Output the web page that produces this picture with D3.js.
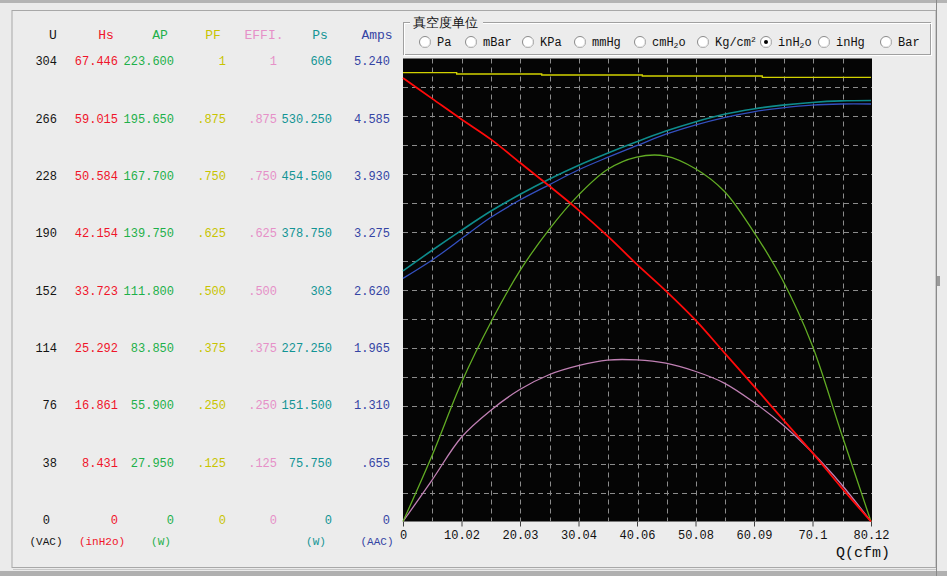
<!DOCTYPE html>
<html><head><meta charset="utf-8">
<script src="https://cdn.jsdelivr.net/npm/d3@7/dist/d3.min.js"></script>
<style>
html,body{margin:0;padding:0;background:#ebebeb;overflow:hidden}
svg{display:block}
text{font-family:"Liberation Mono","DejaVu Sans Mono",monospace}
</style></head><body>
<svg id="c" width="947" height="576"></svg>
<script>
// ---------- DATA ----------
const flowQ   = [0,5,10,15,20,25,30,35,40,45,50,55,60,65,70,75,80.12];
const hsVals  = [64.6,61.6,58.6,55.7,52.3,48.9,45.4,41.6,37.5,33.6,29.4,24.6,19.8,14.9,10.1,5.0,0];
const apVals  = [0,32,67,96,121,141,157.5,170,176,176.5,170.5,159.5,140,116.5,85.5,43,0];
const effiVals= [0,0.09,0.182,0.240,0.285,0.317,0.3365,0.3485,0.349,0.342,0.3245,0.299,0.258,0.209,0.150,0.081,0];
const psVals  = [328,355,381,406,428,448,466,482,497,511,523,533,540,545,548.5,550.5,551];
const ampsVals= [2.752,2.96,3.20,3.44,3.638,3.81,3.978,4.12,4.253,4.383,4.487,4.572,4.637,4.682,4.713,4.725,4.725];
const pfQ     = [0,9.19,23.75,40.97,61.51,80.12];
const pfVals  = [0.9693,0.9665,0.9644,0.9622,0.9593,0.9593];

const xTickLabels = ["0","10.02","20.03","30.04","40.06","50.08","60.09","70.1","80.12"];
const uTicks    = ["0","38","76","114","152","190","228","266","304"];
const hsTicks   = ["0","8.431","16.861","25.292","33.723","42.154","50.584","59.015","67.446"];
const apTicks   = ["0","27.950","55.900","83.850","111.800","139.750","167.700","195.650","223.600"];
const pfTicks   = ["0",".125",".250",".375",".500",".625",".750",".875","1"];
const effiTicks = ["0",".125",".250",".375",".500",".625",".750",".875","1"];
const psTicks   = ["0","75.750","151.500","227.250","303","378.750","454.500","530.250","606"];
const ampsTicks = ["0",".655","1.310","1.965","2.620","3.275","3.930","4.585","5.240"];

const headers = ["U","Hs","AP","PF","EFFI.","Ps","Amps"];
const units   = ["(VAC)","(inH2o)","(W)","","","(W)","(AAC)"];
const radioLabels = ["Pa","mBar","KPa","mmHg","cmH2o","Kg/cm2","inH2o","inHg","Bar"];
const radioSelected = "inH2o";
const groupTitle = "真空度单位";
const xTitle = "Q(cfm)";
const qMax = 80.12, hsMax = 67.446, apMax = 223.6, pfMax = 1, effiMax = 1, psMax = 606, ampsMax = 5.24;

// ---------- LAYOUT ----------
const svg = d3.select("#c");
const P = {left:403, right:871, plotRight:872, top:58.5, bottom:521.5};

// window frame
svg.append("rect").attr("x",0).attr("y",0).attr("width",947).attr("height",576).attr("fill","#ebebeb");
svg.append("rect").attr("x",0).attr("y",0).attr("width",947).attr("height",3).attr("fill","#b4b4b4");
svg.append("rect").attr("x",12).attr("y",10.5).attr("width",924).attr("height",557).attr("fill","#ececec")
   .attr("stroke","#a8a8a8").attr("stroke-width",1);
svg.append("line").attr("x1",13).attr("x2",936).attr("y1",569.5).attr("y2",569.5).attr("stroke","#c8c8c8");
svg.append("rect").attr("x",0).attr("y",571).attr("width",947).attr("height",5).attr("fill","#b0b0b0");
svg.append("line").attr("x1",936.5).attr("x2",936.5).attr("y1",0).attr("y2",576).attr("stroke","#8a8a8a");
svg.append("rect").attr("x",937).attr("y",276).attr("width",3).attr("height",10).attr("fill","#9a9a9a");

// scales
const x = d3.scaleLinear().domain([0,qMax]).range([P.left,P.right]);
const yFor = m => d3.scaleLinear().domain([0,m]).range([P.bottom,P.top]);
const yHs = yFor(hsMax), yAp = yFor(apMax), yPf = yFor(pfMax), yEf = yFor(effiMax), yPs = yFor(psMax), yAm = yFor(ampsMax);
const rowY = d3.scaleLinear().domain([0,8]).range([520,61]);

// plot background
svg.append("rect").attr("x",P.left).attr("y",P.top).attr("width",P.plotRight-P.left).attr("height",P.bottom-P.top).attr("fill","#050505");

// grid
const gx = d3.range(1,16).map(i=>P.left+(P.plotRight-P.left)*i/16);
const gy = d3.range(1,16).map(i=>P.top+(P.bottom-P.top)*i/16);
const grid = svg.append("g").attr("stroke","#8c8c8c").attr("stroke-width",1).attr("stroke-dasharray","5,4");
grid.selectAll("line.v").data(gx).join("line").attr("x1",d=>Math.round(d)+0.5).attr("x2",d=>Math.round(d)+0.5)
    .attr("y1",P.top).attr("y2",P.bottom);
grid.selectAll("line.h").data(gy).join("line").attr("y1",d=>Math.round(d)+0.5).attr("y2",d=>Math.round(d)+0.5)
    .attr("x1",P.left).attr("x2",P.plotRight);

// x axis
const xTickVals = d3.range(0,9).map(i=>i*qMax/8);
const xAxis = d3.axisBottom(x).tickValues(xTickVals).tickFormat((d,i)=>xTickLabels[i]).tickSize(5).tickPadding(4);
const gxa = svg.append("g").attr("transform",`translate(0,${P.bottom})`).call(xAxis);
gxa.select(".domain").remove();
gxa.selectAll(".tick line").attr("stroke","#404040");
gxa.selectAll(".tick text").attr("font-family","Liberation Mono").attr("font-size",12).attr("fill","#111");
svg.append("text").attr("x",890).attr("y",557).attr("text-anchor","end").attr("font-size",15).attr("fill","#111").text(xTitle);

// series lines
const mk = (ys)=>d3.line().x(d=>x(d[0])).y(d=>ys(d[1])).curve(d3.curveCatmullRom.alpha(0.5));
const zipQ = v => flowQ.map((q,i)=>[q,v[i]]);
const plotG = svg.append("g").attr("fill","none");
plotG.append("path").datum(pfQ.map((q,i)=>[q,pfVals[i]]))
  .attr("d",d3.line().x(d=>x(d[0])).y(d=>yPf(d[1])).curve(d3.curveStepAfter)).attr("stroke","#d2d200").attr("stroke-width",1.3);
plotG.append("path").datum(zipQ(psVals)).attr("d",mk(yPs)).attr("stroke","#0e8c8c").attr("stroke-width",1.6);
plotG.append("path").datum(zipQ(ampsVals)).attr("d",mk(yAm)).attr("stroke","#3450c0").attr("stroke-width",1.3);
plotG.append("path").datum(zipQ(effiVals)).attr("d",mk(yEf)).attr("stroke","#c080b4").attr("stroke-width",1.3);
plotG.append("path").datum(zipQ(apVals)).attr("d",mk(yAp)).attr("stroke","#62ac24").attr("stroke-width",1.3);
plotG.append("path").datum(zipQ(hsVals)).attr("d",mk(yHs)).attr("stroke","#ff0a0a").attr("stroke-width",1.8);

// left columns
const colTicks = [uTicks,hsTicks,apTicks,pfTicks,effiTicks,psTicks,ampsTicks];
const colColors = ["#141414","#f0142a","#1eb04a","#c8c400","#e690c8","#129494","#3444a4"];
const colRight  = [57,118,174,226,277,332,390];
const headCx    = [53,106,160,213,264,320,377];
const unitCx    = [46,102,161,0,0,316,377];
colTicks.forEach((ticks,c)=>{
  const g = svg.append("g").attr("fill",colColors[c]);
  g.append("text").attr("x",headCx[c]).attr("y",34).attr("dy","0.35em").attr("text-anchor","middle")
    .attr("font-size",13).text(headers[c]);
  g.selectAll("text.v").data(ticks).join("text").attr("class","v")
    .attr("x",(d,i)=> (c===0 && i===0) ? colRight[c]-7 : colRight[c])
    .attr("y",(d,i)=>rowY(i)).attr("dy","0.35em").attr("text-anchor","end").attr("font-size",12).text(d=>d);
  if(units[c]) g.append("text").attr("x",unitCx[c]).attr("y",541).attr("dy","0.35em").attr("text-anchor","middle")
    .attr("font-size",11).text(units[c]);
});

// group box with radio buttons
const gb = svg.append("g");
gb.append("rect").attr("x",403.5).attr("y",22.5).attr("width",527).attr("height",32).attr("fill","none").attr("stroke","#a0a0a0");
gb.append("rect").attr("x",404.5).attr("y",23.5).attr("width",527).attr("height",32).attr("fill","none").attr("stroke","#ffffff");
gb.append("rect").attr("x",410).attr("y",14).attr("width",73).attr("height",16).attr("fill","#ececec");
gb.append("text").attr("x",413).attr("y",22).attr("dy","0.35em").attr("font-family","Noto Sans CJK SC").attr("font-size",13).attr("fill","#111").text(groupTitle);
const radioX = [425,471,528,580,640,703,766,824,886];
radioLabels.forEach((lab,i)=>{
  const cx = radioX[i], cy = 42;
  gb.append("circle").attr("cx",cx).attr("cy",cy).attr("r",5.5).attr("fill","#fff").attr("stroke","#8a8a8a").attr("stroke-width",1);
  gb.append("path").attr("d",d3.arc()({innerRadius:4.5,outerRadius:5.5,startAngle:Math.PI*0.25,endAngle:Math.PI*1.25}))
    .attr("transform",`translate(${cx},${cy})`).attr("fill","#e0e0e0");
  if(lab===radioSelected) gb.append("circle").attr("cx",cx).attr("cy",cy).attr("r",2).attr("fill","#000");
  const t = gb.append("text").attr("x",cx+12).attr("y",cy).attr("dy","0.35em").attr("font-size",12).attr("fill","#111");
  if(lab.endsWith("H2o")){
    t.append("tspan").text(lab.slice(0,-2));
    t.append("tspan").attr("font-size",8).attr("dy","0.25em").text("2");
    t.append("tspan").attr("dy","-0.18em").text("o");
  } else if(lab==="Kg/cm2"){
    t.append("tspan").text("Kg/cm");
    t.append("tspan").attr("font-size",8).attr("dy","-0.55em").text("2");
  } else t.text(lab);
});
</script>
</body></html>
